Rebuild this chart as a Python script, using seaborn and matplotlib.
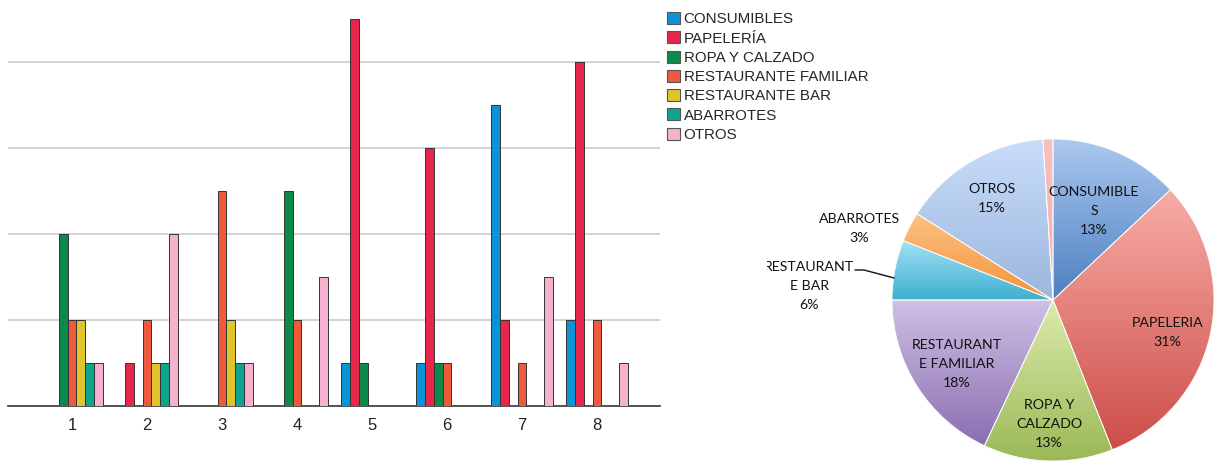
import numpy as np
import pandas as pd
import matplotlib
matplotlib.use("Agg")
import matplotlib.pyplot as plt
from matplotlib.patches import Patch
from matplotlib.colors import to_rgb
import seaborn as sns

# ---------------- data ----------------
groups = ["1", "2", "3", "4", "5", "6", "7", "8"]
series = ["CONSUMIBLES", "PAPELERÍA", "ROPA Y CALZADO", "RESTAURANTE FAMILIAR",
          "RESTAURANTE BAR", "ABARROTES", "OTROS"]
consumibles = [0, 0, 0, 0, 1, 1, 7, 2]
papeleria = [0, 1, 0, 0, 9, 6, 2, 8]
ropa_calzado = [4, 0, 0, 5, 1, 1, 0, 0]
rest_familiar = [2, 2, 5, 2, 0, 1, 1, 2]
rest_bar = [2, 1, 2, 0, 0, 0, 0, 0]
abarrotes = [1, 1, 1, 0, 0, 0, 0, 0]
otros = [1, 4, 1, 3, 0, 0, 3, 1]

pie_labels = ["CONSUMIBLE\nS", "PAPELERIA", "ROPA Y\nCALZADO", "RESTAURANT\nE FAMILIAR",
              "RESTAURANT\nE BAR", "ABARROTES", "OTROS", ""]
pie_values = [13, 31, 13, 18, 6, 3, 15, 1]
pie_pct_text = ["13%", "31%", "13%", "18%", "6%", "3%", "15%", "1%"]

# ---------------- style ----------------
bar_colors = ["#0a93d7", "#e8264b", "#0b8a4b", "#f05a3c", "#dfc52a", "#0ca690", "#f5b1ce"]
pie_grad = [("#abc8f0", "#4c80c1"), ("#f8aca6", "#cd4d48"), ("#dcebab", "#9bb957"),
            ("#cfc0e5", "#8a6eb0"), ("#a2e2f6", "#3eafcf"), ("#fbc282", "#f6923c"),
            ("#c9ddf9", "#9bb6dd"), ("#f8c0bf", "#f2aeae")]

sns.set_theme(style="white")
plt.rcParams["font.family"] = ["Liberation Sans", "DejaVu Sans"]

fig = plt.figure(figsize=(12.29, 4.74), dpi=100)

# ---------------- bar chart ----------------
W, H = 1229, 474
ax = fig.add_axes([8 / W, (H - 406) / H, 652 / W, 406 / H])
df = pd.DataFrame({
    "grupo": np.repeat(groups, len(series)),
    "categoria": series * len(groups),
    "valor": np.array([consumibles, papeleria, ropa_calzado, rest_familiar,
                       rest_bar, abarrotes, otros]).T.ravel(),
})
sns.barplot(data=df, x="grupo", y="valor", hue="categoria", hue_order=series,
            palette=bar_colors, saturation=1, width=0.83, gap=0, edgecolor="#333333",
            linewidth=0.7, ax=ax, legend=False, errorbar=None, zorder=3)
ax.set_xlim(-0.853, 7.84)
ax.set_ylim(0, 9.44)
ax.set_yticks([2, 4, 6, 8])
ax.set_yticklabels([])
ax.grid(axis="y", color="#c8c8c8", linewidth=1.1, zorder=0)
ax.grid(axis="x", visible=False)
for s in ["top", "right", "left"]:
    ax.spines[s].set_visible(False)
ax.spines["bottom"].set_color("#333333")
ax.spines["bottom"].set_linewidth(1.2)
ax.set_xlabel("")
ax.set_ylabel("")
ax.tick_params(axis="x", length=0, pad=9, labelsize=12, labelcolor="#222222")
ax.tick_params(axis="y", length=0)
ax.set_facecolor("none")

handles = [Patch(facecolor=c, edgecolor="#555555", linewidth=0.8) for c in bar_colors]
ax.legend(handles, series, loc="upper left", bbox_to_anchor=(667 / W, 1 - 12 / H),
          bbox_transform=fig.transFigure, frameon=False, fontsize=10.9,
          handlelength=0.85, handleheight=0.85, handletextpad=0.25,
          labelspacing=0.33, borderaxespad=0, borderpad=0)

# ---------------- pie chart ----------------
R = 161.0
cx, cy = 1053, 300
left_px, top_px = 767, 137
pax = fig.add_axes([left_px / W, 0, (W - left_px) / W, (H - top_px) / H])
wedges, _ = pax.pie(pie_values, startangle=90, counterclock=False,
                    wedgeprops=dict(facecolor="none", edgecolor="white", linewidth=0.6, zorder=2))

g = np.linspace(0, 1, 256)[:, None, None]
for w, (ctop, cbot) in zip(wedges, pie_grad):
    bb = w.get_path().get_extents()
    c0 = np.array(to_rgb(ctop))[None, None, :]
    c1 = np.array(to_rgb(cbot))[None, None, :]
    img = c0 * (1 - g) + c1 * g
    im = pax.imshow(img, extent=(bb.x0, bb.x1, bb.y0, bb.y1), origin="upper",
                    aspect="auto", interpolation="bilinear", zorder=1)
    im.set_clip_path(w)
pax.set_xlim((left_px - cx) / R, (W - cx) / R)
pax.set_ylim((cy - H) / R, (cy - top_px) / R)
pax.set_aspect("auto")
pax.axis("off")

label_r = [0.64, 0.73, 0.76, 0.71, 1.52, 1.29, 0.75, 1.035]
label_shift = [0, 0, 0, 0, 6.0, 6.0, 0, -0.5]  # degrees
label_dy_px = [6, 7, 2, 3, 6, 3, 2, 0]          # downward nudge, pixels
total = sum(pie_values)
start = 90.0
for i, (v, lab, pct) in enumerate(zip(pie_values, pie_labels, pie_pct_text)):
    ang = start - 360.0 * v / total / 2
    start -= 360.0 * v / total
    a = np.deg2rad(ang + label_shift[i])
    x, y = label_r[i] * np.cos(a), label_r[i] * np.sin(a) - label_dy_px[i] / R
    txt = f"{lab}\n{pct}" if lab else pct
    pax.text(x, y, txt, ha="center", va="center", fontsize=10.2, color="#111111",
             family=["Lato", "DejaVu Sans"], linespacing=1.7, zorder=3, clip_on=True)

# leader line for RESTAURANTE BAR
pax.plot([(855 - cx) / R, (864 - cx) / R, (894 - cx) / R],
         [(cy - 270) / R, (cy - 270) / R, (cy - 278) / R],
         color="#111111", linewidth=1.0, zorder=3)

fig.savefig("out.png", dpi=100)
